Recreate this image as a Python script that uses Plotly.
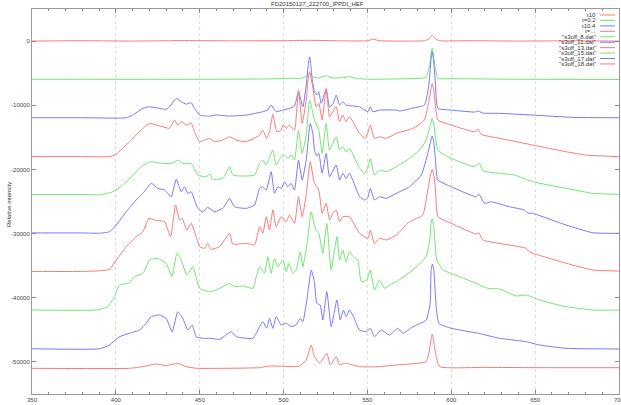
import plotly.graph_objects as go

TITLE = "FD20150127_222700_IPPDI_HEF"
Y_LABEL = "Relative intensity"
NAMES = ["t10", "t=0.2", "t10.4", "t=...", '"s3off_8.dat"', '"s3off_11.dat"',
         '"s3off_13.dat"', '"s3off_15.dat"', '"s3off_17.dat"', '"s3off_18.dat"']
X_TICKS = [350, 400, 450, 500, 550, 600, 650, 700]
X_TICK_TEXT = ["350", "400", "450", "500", "550", "600", "650", "700"]
Y_TICKS = [0, -10000, -20000, -30000, -40000, -50000]
Y_TICK_TEXT = ["0", "-10000", "-20000", "-30000", "-40000", "-50000"]

S1 = [(350, 0), (380, 60), (410, 0), (440, 80), (470, 40), (500, 60), (515, 120), (530, 60),
      (550, 40), (553.5, 300), (557, 50), (575, 0), (584, 50), (586.5, 300), (587.9, 750),
      (588.6, 900), (589.3, 750), (590.8, 300), (593.5, 40), (610, 60), (640, 0), (670, 40),
      (700, 0)]

S2 = [(350, -5950), (380, -5950), (420, -5970), (460, -5950), (490, -5900), (503.5, -5810),
      (510, -5800), (513.5, -5550), (515.5, -5000), (517.5, -5600), (521, -5750), (525.4, -5400),
      (529, -5750), (535, -5700), (539.3, -5550), (543, -5800), (550, -5950), (567, -5900),
      (582, -5800), (585, -5650), (587, -3800), (587.9, -2000), (588.6, -1140), (589.3, -2000),
      (590.2, -3800), (592, -5800), (600, -5850), (640, -5950), (700, -5980)]

S3 = [(350, -11950), (380, -11950), (406.2, -11950), (410.1, -11530), (416.1, -10490),
      (420.1, -10240), (424.1, -10390), (430, -10640), (432, -10240), (436, -8930), (439, -9460),
      (441.9, -9820), (444.9, -9610), (446.9, -10490), (449.9, -11530), (455.8, -11690),
      (459.8, -11530), (467.8, -11690), (477.7, -11530), (487.6, -11010), (490.6, -10750),
      (492.6, -9970), (495.6, -11010), (499.6, -10750), (503.5, -10490), (506.5, -10130),
      (508.9, -7900), (511.5, -10240), (513.5, -6860), (514.7, -3800), (515.5, -2450),
      (516.3, -3800), (517.1, -6080), (518.4, -7900), (519.8, -8410), (521, -7900),
      (522.4, -9710), (525.4, -7520), (527.4, -10240), (529.4, -9820), (531.4, -8410),
      (533.4, -9970), (535.3, -9460), (537.3, -9970), (545.3, -10240), (550.2, -11010),
      (551.7, -10240), (553.2, -11010), (557.2, -10750), (567.2, -10750), (569.1, -10910),
      (577.1, -10440), (584, -9970), (586.6, -6860), (587.9, -3000), (588.6, -1670),
      (589.4, -3000), (590.6, -6860), (592, -10490), (600, -10750), (613.8, -11060),
      (616.2, -10910), (618.8, -11220), (628.8, -11260), (648.6, -11530), (672.5, -11890),
      (700, -11950)]

S4 = [(350, -18000), (380, -18000), (396.2, -18000), (400.2, -17650), (408.1, -15690),
      (416.1, -13600), (420.1, -12820), (424.1, -13090), (428, -13350), (432, -13600),
      (435, -12310), (436.9, -13090), (439, -12570), (441.9, -13090), (444.9, -12820),
      (446.9, -14130), (449.9, -15690), (452.9, -15420), (455.8, -15160), (458.8, -15690),
      (463.8, -15420), (467.8, -14910), (471.8, -15420), (477.7, -15690), (485.7, -14650),
      (487.6, -13870), (490, -15160), (491.6, -14130), (493.6, -11420), (496, -14130),
      (498.6, -13870), (499.6, -13090), (501.6, -13600), (503.5, -13090), (506.5, -13870),
      (508.9, -7630), (511.1, -12820), (513.5, -9190), (514.6, -6000), (515.5, -4780),
      (516.4, -5800), (517.4, -7120), (519.4, -10240), (521, -9710), (523, -12310),
      (525.4, -7370), (527.4, -11790), (529.4, -11010), (531.4, -10240), (533.4, -12570),
      (535.3, -11530), (537.3, -12570), (539.3, -11790), (545.3, -14380), (548.3, -15160),
      (550.2, -14330), (551.7, -13090), (554.2, -15160), (557.2, -14910), (561.2, -15160),
      (567.2, -14380), (577.1, -13600), (584, -12310), (586, -10240), (587.8, -7600),
      (588.6, -6590), (589.5, -7600), (590.6, -10240), (592, -12310), (600, -13090),
      (613.8, -14130), (616.2, -13760), (617.8, -14540), (628.8, -15160), (648.6, -16200),
      (668.5, -17250), (680.4, -17760), (700, -18020)]

S5 = [(350, -23900), (380, -23900), (390.3, -23950), (398.2, -23480), (404.1, -22440),
      (410.1, -20880), (415.1, -19580), (420.1, -18800), (428, -19060), (433, -19060),
      (437, -18540), (439.9, -19060), (444.9, -19060), (448.9, -20880), (453.9, -21140),
      (455.8, -20720), (457.8, -21550), (463.8, -21390), (467.8, -19580), (469.7, -20880),
      (475.7, -21030), (482.7, -20880), (485.7, -19060), (487.6, -18540), (489.7, -19320),
      (491.6, -18030), (493.6, -16980), (495.6, -19320), (498.6, -18030), (500.6, -17760),
      (502.5, -18280), (504.5, -17760), (506.5, -18540), (508.9, -13870), (511.1, -17500),
      (513.5, -14650), (515.5, -9190), (517.1, -10750), (518.4, -12310), (521, -13870),
      (523, -17500), (525.4, -12820), (527.4, -16980), (531.4, -14910), (533.4, -16980),
      (535.3, -16470), (537.3, -17250), (539.3, -16720), (545.3, -19830), (548.3, -20610),
      (550.2, -19790), (551.7, -18280), (554.2, -20880), (557.2, -20100), (561.2, -20360),
      (567.2, -19580), (575.1, -18280), (581.1, -16980), (585, -15420), (587.6, -13000),
      (588.6, -12040), (589.6, -13000), (592, -16980), (600, -18280), (613.8, -19580),
      (616.8, -19060), (618.8, -20210), (628.8, -20610), (637.7, -20880), (648.6, -21920),
      (668.5, -22950), (684.4, -23730), (700, -23880)]

S6 = [(350, -29900), (380, -29900), (390.3, -29950), (396.2, -29710), (400.2, -28670),
      (406.2, -26600), (412.1, -24770), (416.1, -23730), (421.1, -22170), (425, -22950),
      (429, -23210), (433, -24260), (436, -21550), (439, -23480), (440.9, -22700),
      (442.9, -23730), (444.9, -23480), (448.9, -26070), (451.8, -26600), (454.8, -25920),
      (458.8, -26600), (463.8, -26070), (467.8, -24510), (470.7, -25820), (477.7, -26070),
      (482.7, -25550), (485.7, -22950), (487.6, -22700), (489.7, -23210), (492.6, -20360),
      (494.6, -23730), (496.6, -22700), (498.6, -22950), (500.6, -21920), (502.5, -22700),
      (504.5, -22170), (506.5, -23210), (508.9, -18540), (511.1, -21660), (513.5, -18540),
      (515.9, -12820), (517.4, -14330), (518.4, -16980), (519.8, -17920), (521, -17500),
      (523, -20610), (525.4, -17500), (527.4, -21140), (531.4, -19320), (533.4, -21660),
      (535.3, -20610), (537.3, -21390), (539.3, -20610), (545.3, -24260), (548.3, -24770),
      (550.2, -24460), (551.7, -22950), (554.2, -24770), (557.2, -24260), (561.2, -24510),
      (567.2, -23730), (575.1, -22700), (582.1, -20880), (586, -17500), (587.7, -15600),
      (588.6, -14800), (589.5, -15600), (590.6, -18540), (592, -21660), (600, -22700),
      (614.8, -24260), (616.4, -23840), (619.8, -25290), (623.8, -25040), (634.7, -25820),
      (643.7, -26330), (645.6, -26800), (648.6, -26850), (668.5, -28670), (684.4, -29870),
      (700, -29960)]

S7 = [(350, -35900), (380, -35900), (390.3, -35800), (396.2, -35570), (400.2, -34120),
      (406.2, -32050), (412.1, -30490), (416.1, -29710), (419.7, -27620), (423, -27890),
      (429, -28150), (432.6, -30490), (435.6, -25550), (438, -27890), (439.5, -27620),
      (442.3, -29450), (444.9, -28400), (447.9, -30490), (449.9, -32050), (452.9, -32300),
      (454.8, -31520), (456.8, -32460), (461.8, -32050), (467.8, -29960), (469.7, -31630),
      (477.7, -31520), (482.7, -31780), (485.7, -28930), (487.6, -29960), (489.7, -27370),
      (491.6, -29450), (493.6, -26330), (495.6, -28930), (498.6, -27370), (501.6, -28150),
      (503.5, -27110), (506.5, -28400), (508.9, -24260), (511.1, -27370), (513.5, -23990),
      (515.9, -18800), (518.4, -22170), (521, -23210), (523, -26850), (525.4, -25290),
      (527.4, -27890), (529.4, -26850), (531.4, -26330), (533.4, -28150), (535.3, -27370),
      (539.3, -27370), (545.3, -29960), (550.2, -30740), (551.7, -29450), (554.2, -31520),
      (557.2, -30740), (561.2, -31000), (567.2, -30220), (575.1, -28150), (583, -27110),
      (586, -23210), (587.6, -20900), (588.6, -19990), (589.6, -20900), (590.6, -23210),
      (592, -27370), (600, -28400), (614.8, -30070), (616.4, -29870), (618.8, -31000),
      (634.7, -31780), (644.7, -32300), (646.6, -32870), (648.6, -33080), (668.5, -34630),
      (684.4, -35680), (700, -35840)]

S8 = [(350, -41900), (388.3, -41900), (395.2, -41390), (399.2, -39830), (402.2, -38020),
      (408.1, -37660), (411.1, -36720), (416.1, -36200), (420.1, -34120), (425, -33860),
      (430, -34640), (433.4, -36720), (436.4, -33080), (439, -34120), (442.3, -36460),
      (445.9, -35160), (449.9, -38530), (455.8, -39060), (459.8, -38790), (463.8, -38280),
      (467.8, -37750), (470.7, -38280), (475.7, -38170), (481.7, -38530), (483.7, -36720),
      (485.7, -35160), (488.6, -36200), (490.6, -33610), (492.6, -36200), (494.6, -33860),
      (496.6, -35160), (499.6, -34120), (501.6, -35940), (503.1, -34640), (505.5, -36200),
      (507.5, -35680), (509.9, -32830), (511.5, -35160), (513.9, -31780), (516.5, -26600),
      (518.4, -28670), (519.4, -29450), (521, -29960), (523.4, -33080), (525.8, -28400),
      (528.4, -35680), (531.8, -30490), (533.4, -34120), (535.3, -32560), (537.3, -34390),
      (539.3, -32830), (541.7, -33610), (544.3, -34120), (546.3, -37500), (549.6, -37240),
      (551.7, -35680), (554.2, -38790), (557.2, -37240), (560.2, -38530), (563.2, -38020),
      (567.2, -37500), (577.1, -35680), (585, -33610), (587.4, -30490), (587.9, -28500),
      (588.6, -27730), (589.5, -28800), (591.4, -34120), (595, -35680), (600, -36200),
      (614.8, -37750), (621.8, -38530), (628.8, -38640), (638.7, -39730), (644.7, -39570),
      (652.6, -40350), (668.5, -41400), (684.4, -41910), (700, -41910)]

S9 = [(350, -47950), (390.2, -47950), (396.2, -47360), (402.2, -46070), (408.1, -45540),
      (414.1, -45030), (418.1, -43980), (421.1, -42950), (426, -42690), (430, -43210),
      (433.6, -45290), (436.9, -42180), (439.9, -43210), (442.9, -45030), (445.5, -44250),
      (447.9, -46070), (451.8, -46320), (456.8, -46320), (461.8, -46480), (468.8, -45290),
      (471.8, -46070), (481.7, -46320), (485.7, -44510), (487.6, -43730), (490, -44760),
      (491.6, -43210), (493.6, -44760), (495.6, -42950), (498.6, -44250), (501.6, -43980),
      (504.5, -44510), (507.5, -44250), (509.9, -43210), (511.5, -43730), (513.9, -40350),
      (516.5, -35680), (518.4, -37500), (519.8, -40880), (521.8, -41130), (523.4, -43470),
      (525.8, -39060), (528.4, -44510), (531.8, -40350), (533.8, -43470), (535.7, -41910),
      (537.3, -42950), (539.3, -41910), (541.7, -42950), (545.3, -45030), (549.6, -45290),
      (551.7, -44760), (554.2, -46070), (558.2, -45030), (563.2, -45810), (568.1, -44760),
      (571.1, -45540), (577.1, -44510), (585, -43470), (587.4, -40880), (588, -35600),
      (588.8, -34740), (589.6, -35800), (591, -41390), (592.6, -43980), (600, -44760),
      (616.2, -45540), (628.8, -46320), (644.7, -46850), (652.6, -47360), (668.5, -47880),
      (700, -47990)]

S10 = [(350, -51000), (408, -51000), (416.1, -50740), (424.1, -50320), (430, -50590),
       (436.9, -50210), (441.9, -50740), (447.9, -50990), (467.8, -50990), (485.7, -50900),
       (491.6, -50640), (507.5, -50740), (509.5, -50640), (513.5, -49700), (516.5, -47360),
       (518.4, -49190), (521.4, -50210), (525.8, -48660), (527.8, -50480), (531.4, -49190),
       (533.4, -50480), (536.3, -50210), (539.3, -50320), (545.3, -50740), (557.2, -50740),
       (567.2, -50480), (585, -49960), (587, -48140), (587.9, -46600), (588.6, -45650),
       (589.4, -46600), (591, -49190), (593, -50740), (620, -50850), (660, -50900),
       (700, -50900)]

SERIES = [S1, S2, S3, S4, S5, S6, S7, S8, S9, S10]
RED = "rgb(255,120,120)"
GREEN = "rgb(110,232,110)"
BLUE = "rgb(120,120,255)"
COLORS = [RED, GREEN, BLUE] * 3 + [RED]

FONT = "Liberation Sans"
W, H = 621, 405
ML, MR, MT, MB = 32, 2, 9, 11
PW = W - ML - MR
PH = H - MT - MB


def px_x(px):
    return (px - ML) / PW


def px_y(py):
    return (H - MB - py) / PH


fig = go.Figure()
for name, pts, color in zip(NAMES, SERIES, COLORS):
    fig.add_trace(go.Scatter(
        x=[p[0] for p in pts], y=[p[1] for p in pts], mode="lines", name=name,
        line=dict(color=color, width=1, shape="spline", smoothing=0.45),
        showlegend=False, hoverinfo="skip"))

annotations = []
shapes = []
for i, (name, color) in enumerate(zip(NAMES, COLORS)):
    row = 15 + i * 5.44
    annotations.append(dict(text=name, x=px_x(597.5), y=px_y(row), xref="paper", yref="paper",
                            xanchor="right", yanchor="middle", showarrow=False,
                            font=dict(family=FONT, size=6, color="#333")))
    shapes.append(dict(type="line", xref="paper", yref="paper", x0=px_x(600), x1=px_x(615),
                       y0=px_y(row), y1=px_y(row), line=dict(color=color, width=1)))

annotations.append(dict(text=TITLE, x=px_x(317), y=px_y(4), xref="paper", yref="paper",
                        xanchor="center", yanchor="middle", showarrow=False,
                        font=dict(family=FONT, size=6, color="#333")))
annotations.append(dict(text=Y_LABEL, x=px_x(9), y=px_y(205), xref="paper", yref="paper",
                        xanchor="center", yanchor="middle", showarrow=False, textangle=-90,
                        font=dict(family=FONT, size=6, color="#333")))

axis_common = dict(showline=True, linecolor="#999", linewidth=1, mirror="ticks",
                   ticks="inside", ticklen=4, tickcolor="#888", zeroline=False,
                   tickfont=dict(family=FONT, size=6, color="#444"), automargin=False,
                   ticklabeloverflow="allow")

fig.update_layout(
    width=W, height=H, autosize=False,
    margin=dict(l=ML, r=MR, t=MT, b=MB, pad=0),
    paper_bgcolor="white", plot_bgcolor="white",
    xaxis=dict(range=[350, 700], tickvals=X_TICKS, ticktext=X_TICK_TEXT,
               showgrid=True, gridcolor="#dddddd", griddash="dot", gridwidth=1,
               minor=dict(dtick=10, ticks="inside", ticklen=2, tickcolor="#888", showgrid=False),
               **axis_common),
    yaxis=dict(range=[-55000, 5000], tickvals=Y_TICKS, ticktext=Y_TICK_TEXT,
               showgrid=False, **axis_common),
    annotations=annotations, shapes=shapes, showlegend=False,
)

fig.write_html("out.html", config={"displayModeBar": False},
               post_script="document.body.style.margin='0';document.body.style.overflow='hidden';")
